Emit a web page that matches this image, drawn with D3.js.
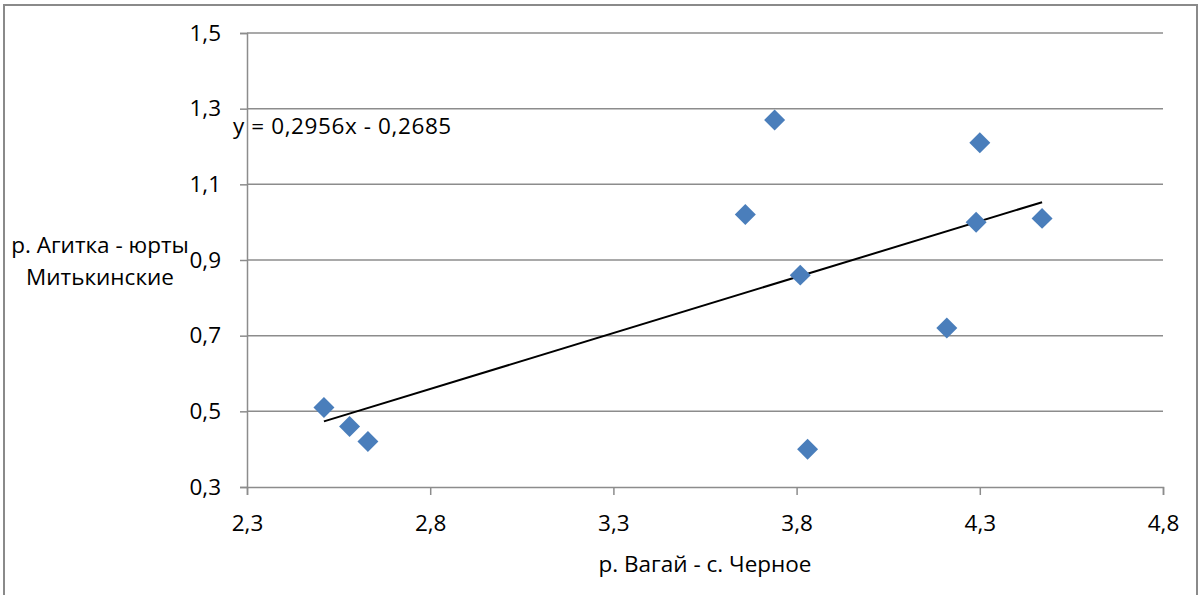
<!DOCTYPE html>
<html><head><meta charset="utf-8">
<script src="https://cdn.jsdelivr.net/npm/d3@7"></script>
<style>body{margin:0;background:#fff}svg{display:block}text{font-family:"Open Sans",sans-serif;fill:#000}</style>
</head><body>
<script>
const xValues = [2.51, 2.58, 2.63, 3.66, 3.74, 3.81, 3.83, 4.21, 4.29, 4.30, 4.47];
const yValues = [0.51, 0.46, 0.42, 1.02, 1.27, 0.86, 0.40, 0.72, 1.00, 1.21, 1.01];
const xTicks = [2.3, 2.8, 3.3, 3.8, 4.3, 4.8];
const yTicks = [0.3, 0.5, 0.7, 0.9, 1.1, 1.3, 1.5];
const trend = {slope: 0.2956, intercept: -0.2685};
const trendLabel = "y = 0,2956x - 0,2685";
const xTitle = "р. Вагай - с. Черное";
const yTitle = ["р. Агитка - юрты", "Митькинские"];

const W = 1201, H = 595, FS = 22.5;
const svg = d3.select("body").append("svg").attr("width", W).attr("height", H);
const fmt = v => d3.format(".1f")(v).replace(".", ",");

// outer border
svg.append("rect").attr("x", 4).attr("y", 5).attr("width", 1193).attr("height", 600)
  .attr("fill", "none").attr("stroke", "#8a8a8a").attr("stroke-width", 2);

const x = d3.scaleLinear().domain([2.3, 4.8]).range([247, 1163]);
const y = d3.scaleLinear().domain([0.3, 1.5]).range([487, 33]);
const grid = "#8c8c8c";

// horizontal gridlines
svg.append("g").selectAll("line").data(yTicks.filter(d => d > 0.3)).join("line")
  .attr("x1", x(2.3)).attr("x2", x(4.8)).attr("y1", d => y(d)).attr("y2", d => y(d))
  .attr("stroke", grid).attr("stroke-width", 1.5);

// y axis
const ya = svg.append("g").attr("transform", `translate(${x(2.3)},0)`)
  .call(d3.axisLeft(y).tickValues(yTicks).tickFormat(fmt).tickSize(7).tickPadding(19));
// x axis
const xa = svg.append("g").attr("transform", `translate(0,${y(0.3)})`)
  .call(d3.axisBottom(x).tickValues(xTicks).tickFormat(fmt).tickSize(8).tickPadding(20));
[ya, xa].forEach(g => {
  g.select(".domain").attr("stroke", grid).attr("stroke-width", 1.5);
  g.selectAll(".tick line").attr("stroke", grid).attr("stroke-width", 1.5);
  g.selectAll(".tick text").attr("font-family", "'Open Sans',sans-serif").attr("font-size", FS).attr("fill", "#000");
});

// trendline
const xmin = d3.min(xValues), xmax = d3.max(xValues);
svg.append("line")
  .attr("x1", x(xmin)).attr("y1", y(trend.slope * xmin + trend.intercept))
  .attr("x2", x(xmax)).attr("y2", y(trend.slope * xmax + trend.intercept))
  .attr("stroke", "#000").attr("stroke-width", 2);

// points
const diamond = d3.symbol().type(d3.symbolSquare).size(220);
svg.append("g").selectAll("path").data(xValues.map((v, i) => [v, yValues[i]])).join("path")
  .attr("d", diamond)
  .attr("transform", d => `translate(${x(d[0])},${y(d[1])}) rotate(45)`)
  .attr("fill", "#4a7ebb");

// trend label
svg.append("text").attr("x", 233).attr("y", 134).attr("font-size", FS)
  .attr("letter-spacing", 0.6).text(trendLabel);

// axis titles
svg.append("text").attr("x", 705).attr("y", 572).attr("text-anchor", "middle").attr("font-size", FS).text(xTitle);
svg.append("text").attr("text-anchor", "middle").attr("font-size", FS)
  .selectAll("tspan").data(yTitle).join("tspan")
  .attr("x", 100).attr("y", (d, i) => 253 + i * 32).text(d => d);
</script>
</body></html>
